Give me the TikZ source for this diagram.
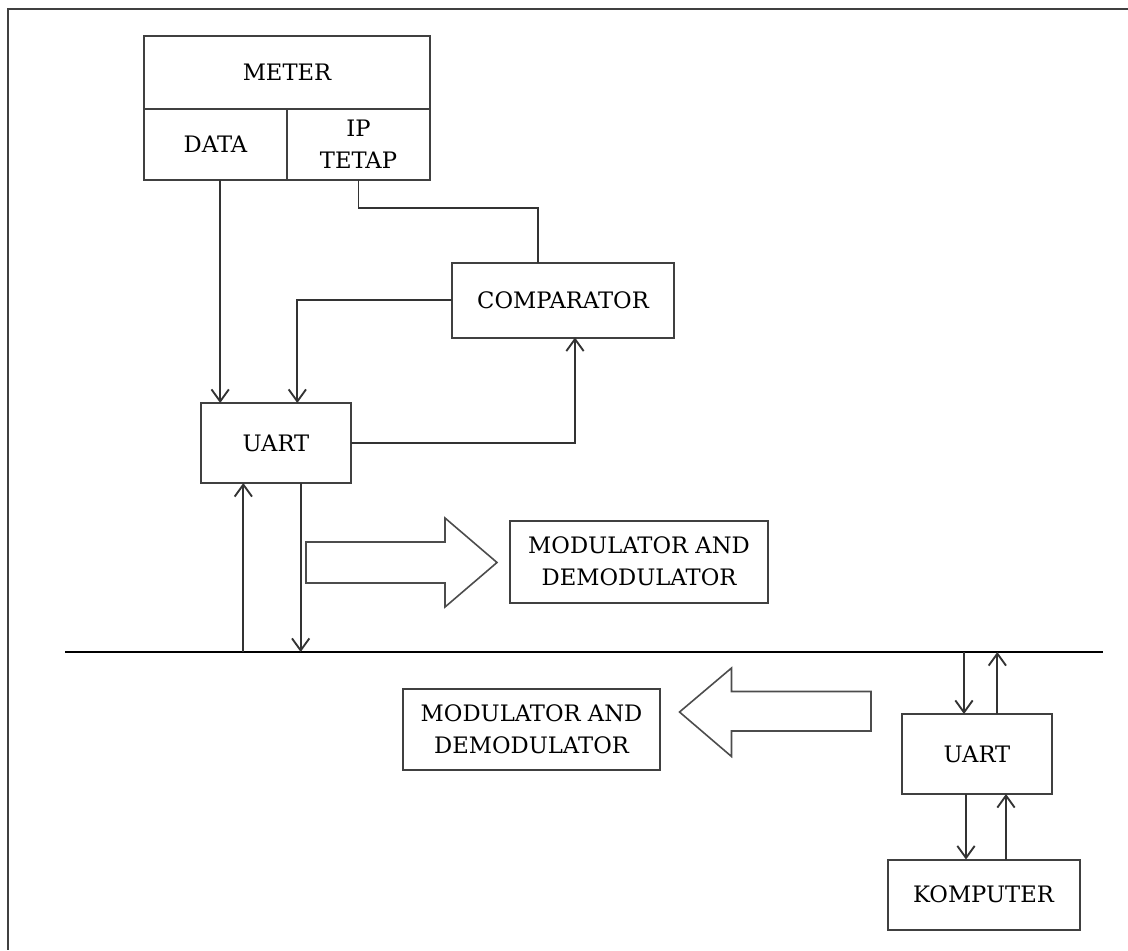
\documentclass[tikz,border=0pt]{standalone}
\usepackage{fontspec}
\setmainfont{DejaVu Serif}
\usetikzlibrary{arrows.meta}
\tikzset{
  box/.style={draw=black!75, line width=1.5pt, align=center, inner sep=0pt, outer sep=0pt,
    font=\fontsize{17}{24}\selectfont},
  wire/.style={draw=black!80, line width=1.4pt},
  arr/.style={wire, -{Straight Barb[length=9pt,width=13pt,line width=1.4pt]}},
  fat/.style={draw=black!70, line width=1.2pt},
}
\begin{document}
\begin{tikzpicture}[x=0.75pt,y=0.75pt,yscale=-1,xscale=1]
\useasboundingbox (0,0) rectangle (1128,950);

%Frame
\draw [black!75, line width=2.2pt] (1128,9) -- (8,9) -- (8,950) ;

%Shape: Rectangle [meter]
\node [box, minimum width=214.5pt, minimum height=54.75pt] (meter) at (287,72.5) {METER};
\node [box, minimum width=107.25pt, minimum height=53.25pt] (data) at (215.5,144.5) {DATA};
\node [box, minimum width=107.25pt, minimum height=53.25pt] (ip) at (358.5,144.5) {IP\\TETAP};
%Shape: Rectangle [comparator]
\node [box, minimum width=166.5pt, minimum height=56.25pt] (comp) at (563,300) {COMPARATOR};
%Shape: Rectangle [uart, meter side]
\node [box, minimum width=112.5pt, minimum height=60pt] (uartA) at (276,443) {UART};
%Shape: Rectangle [modem, meter side]
\node [box, minimum width=193.5pt, minimum height=61.5pt] (modA) at (639,561.5) {MODULATOR AND\\DEMODULATOR};
%Shape: Rectangle [modem, komputer side]
\node [box, minimum width=192.75pt, minimum height=60.75pt] (modB) at (531.5,729) {MODULATOR AND\\DEMODULATOR};
%Shape: Rectangle [uart, komputer side]
\node [box, minimum width=112.5pt, minimum height=60pt] (uartB) at (977,754) {UART};
%Shape: Rectangle [komputer]
\node [box, minimum width=144pt, minimum height=52.5pt] (komputer) at (983.5,894.5) {KOMPUTER};

%Straight Lines [line]
\coordinate (busL) at (65,652);
\coordinate (busR) at (1103,652);
\draw [black, line width=1.5pt] (busL) -- (busR) ;

%Connectors, meter side
\draw [arr] ([xshift=3.5pt]data.south) -- ([xshift=3.5pt]data.south |- uartA.north) ;
\draw [wire] (ip.south) -- ++(0,28) -| ([xshift=-18.75pt]comp.north) ;
\draw [arr] (comp.west) -| ([xshift=16pt]uartA.north) ;
\draw [arr] (uartA.east) -| ([xshift=9pt]comp.south) ;
\draw [arr] ([xshift=-24.5pt]uartA.south |- busL) -- ([xshift=-24.5pt]uartA.south) ;
\draw [arr] ([xshift=18.5pt]uartA.south) -- ([xshift=18.5pt]uartA.south |- busL) ;

%Connectors, komputer side
\draw [arr] ([xshift=-9.75pt]uartB.north |- busR) -- ([xshift=-9.75pt]uartB.north) ;
\draw [arr] ([xshift=15.25pt]uartB.north) -- ([xshift=15.25pt]uartB.north |- busR) ;
\draw [arr] ([xshift=-8.25pt]uartB.south) -- ([xshift=-8.25pt]uartB.south |- komputer.north) ;
\draw [arr] ([xshift=21.75pt]uartB.south |- komputer.north) -- ([xshift=21.75pt]uartB.south) ;

%Shape: Right Arrow
\draw [fat] (306,542) -- (445,542) -- (445,518) -- (497,562.5) -- (445,607) -- (445,583) -- (306,583) -- cycle ;
%Shape: Left Arrow
\draw [fat] (871,691.5) -- (731.5,691.5) -- (731.5,668) -- (679.5,712) -- (731.5,756.5) -- (731.5,731) -- (871,731) -- cycle ;

\end{tikzpicture}
\end{document}
